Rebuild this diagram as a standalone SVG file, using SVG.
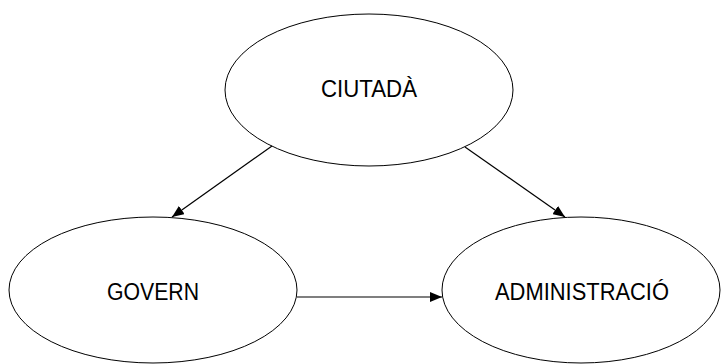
<svg xmlns="http://www.w3.org/2000/svg" width="721" height="364" viewBox="0 0 721 364">
<style>
.n{fill:#fff;stroke:#000;stroke-width:1}
.t{font-family:"Liberation Sans",Arial,sans-serif;font-size:23.5px;fill:#000;text-anchor:middle}
.e{stroke:#000;stroke-width:1.2;fill:none;marker-end:url(#ah)}
</style>
<defs>
<marker id="ah" markerWidth="12" markerHeight="10" refX="12" refY="5" orient="auto" markerUnits="userSpaceOnUse">
<path d="M0,0 L12,5 L0,10 Z" fill="#000"/>
</marker>
</defs>
<rect width="721" height="364" fill="#fff"/>
<g id="ciutada">
<ellipse class="n" cx="369" cy="90" rx="144" ry="76"/>
<text class="t" x="369" y="97" textLength="96" lengthAdjust="spacingAndGlyphs">CIUTADÀ</text>
</g>
<g id="govern">
<ellipse class="n" cx="153" cy="290" rx="144" ry="73"/>
<text class="t" x="153" y="300" textLength="92" lengthAdjust="spacingAndGlyphs">GOVERN</text>
</g>
<g id="administracio">
<ellipse class="n" cx="581" cy="290" rx="139" ry="73"/>
<text class="t" x="582" y="300" textLength="174" lengthAdjust="spacingAndGlyphs">ADMINISTRACIÓ</text>
</g>
<g id="connectors">
<line class="e" x1="272" y1="146" x2="172" y2="217"/>
<line class="e" x1="465" y1="147" x2="565" y2="217"/>
<line class="e" x1="297" y1="297" x2="442" y2="297"/>
</g>
</svg>
